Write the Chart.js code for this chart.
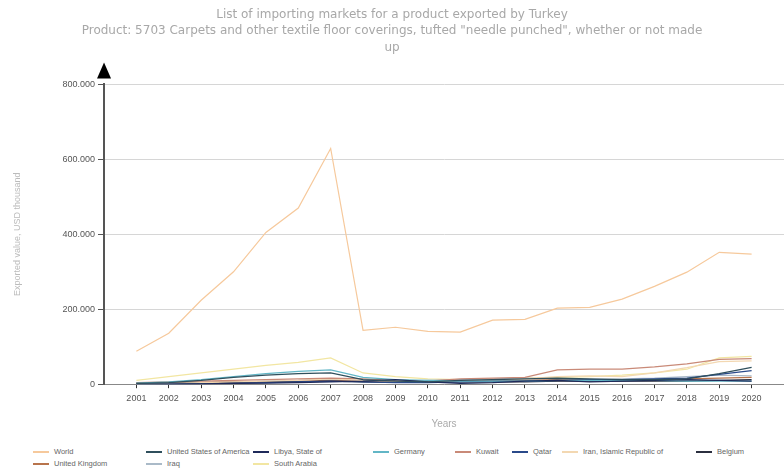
<!DOCTYPE html>
<html>
<head>
<meta charset="utf-8">
<script src="https://cdn.jsdelivr.net/npm/chart.js@4/dist/chart.umd.min.js"></script>
<style>
  html, body { margin: 0; padding: 0; background: #fff; }
  #wrap { position: relative; width: 784px; height: 472px; }
  #box { position: absolute; left: 0; top: 0; width: 784px; height: 440px; }
  #legend {
    position: absolute; left: 33px; top: 446px;
    display: grid;
    grid-template-columns: 113px 107px 120px 82px 57px 50px 134px 88px;
    row-gap: 1px;
    font: 7.5px "Liberation Sans", Arial, sans-serif; color: #666;
  }
  #legend .item { display: flex; align-items: center; white-space: nowrap; height: 11px; }
  #legend .swatch { flex: 0 0 16px; height: 2px; margin-right: 5px; }
</style>
</head>
<body>
<div id="wrap">
  <div id="box"><canvas id="chart" width="784" height="440"></canvas></div>
  <div id="legend"></div>
</div>
<script>
const titleLines = [
  "List of importing markets for a product exported by Turkey",
  "Product: 5703 Carpets and other textile floor coverings, tufted \"needle punched\", whether or not made",
  "up"
];

const years = [2001, 2002, 2003, 2004, 2005, 2006, 2007, 2008, 2009, 2010,
               2011, 2012, 2013, 2014, 2015, 2016, 2017, 2018, 2019, 2020];

// values in USD thousand
const world   = [88000, 136000, 224000, 300000, 405000, 470000, 629000, 144000, 152000, 141000,
                 139000, 171000, 173000, 203000, 205000, 227000, 261000, 299000, 352000, 347000];
const usa     = [2000, 4000, 10000, 18000, 24000, 28000, 30000, 12000, 8000, 6000,
                 10000, 12000, 14000, 16000, 14000, 12000, 12000, 14000, 28000, 45000];
const libya   = [0, 0, 1000, 2000, 3000, 4000, 6000, 8000, 12000, 6000,
                 2000, 4000, 8000, 10000, 6000, 8000, 10000, 12000, 10000, 8000];
const germany = [3000, 6000, 12000, 20000, 28000, 34000, 38000, 18000, 12000, 10000,
                 8000, 8000, 8000, 10000, 10000, 10000, 10000, 8000, 8000, 8000];
const kuwait  = [4000, 6000, 8000, 10000, 12000, 14000, 16000, 14000, 10000, 8000,
                 14000, 16000, 18000, 38000, 40000, 40000, 46000, 54000, 66000, 68000];
const qatar   = [0, 0, 1000, 2000, 4000, 6000, 8000, 6000, 4000, 4000,
                 6000, 8000, 8000, 10000, 12000, 12000, 14000, 16000, 26000, 36000];
const iran    = [1000, 2000, 4000, 6000, 8000, 10000, 14000, 10000, 8000, 8000,
                 8000, 10000, 14000, 20000, 22000, 20000, 30000, 44000, 60000, 62000];
const belgium = [2000, 3000, 4000, 5000, 6000, 7000, 8000, 6000, 5000, 5000,
                 6000, 6000, 6000, 8000, 8000, 8000, 8000, 8000, 10000, 12000];
const uk      = [3000, 4000, 5000, 6000, 6000, 8000, 10000, 8000, 6000, 6000,
                 8000, 10000, 10000, 12000, 12000, 10000, 12000, 14000, 16000, 18000];
const iraq    = [0, 1000, 3000, 5000, 8000, 10000, 14000, 6000, 8000, 10000,
                 12000, 14000, 16000, 14000, 12000, 14000, 16000, 20000, 24000, 22000];
const saudi   = [10000, 20000, 30000, 40000, 50000, 58000, 70000, 30000, 20000, 14000,
                 12000, 14000, 16000, 18000, 20000, 24000, 30000, 40000, 70000, 74000];

const series = [
  { label: "World", data: world, color: "#f6c99c" },
  { label: "United States of America", data: usa, color: "#2f4f5c" },
  { label: "Libya, State of", data: libya, color: "#1f2a5a" },
  { label: "Germany", data: germany, color: "#62b6c6" },
  { label: "Kuwait", data: kuwait, color: "#c98a78" },
  { label: "Qatar", data: qatar, color: "#2a4a8a" },
  { label: "Iran, Islamic Republic of", data: iran, color: "#f3d8b2" },
  { label: "Belgium", data: belgium, color: "#2b2f3f" },
  { label: "United Kingdom", data: uk, color: "#b8744c" },
  { label: "Iraq", data: iraq, color: "#aabac8" },
  { label: "South Arabia", data: saudi, color: "#f2e6a2" }
];

function fmt(v) {
  return String(v).replace(/\B(?=(\d{3})+(?!\d))/g, ".");
}

// black arrow on top of the y axis
const arrowPlugin = {
  id: "arrow",
  afterDraw(chart) {
    const ctx = chart.ctx;
    const x = chart.chartArea.left;
    const top = chart.chartArea.top;
    ctx.save();
    ctx.fillStyle = "#000";
    ctx.beginPath();
    ctx.moveTo(x, top - 22);
    ctx.lineTo(x - 7, top - 6);
    ctx.lineTo(x + 7, top - 6);
    ctx.closePath();
    ctx.fill();
    ctx.restore();
  }
};

new Chart(document.getElementById("chart").getContext("2d"), {
  type: "line",
  data: {
    datasets: series.map(s => ({
      label: s.label,
      data: s.data.map((v, i) => ({ x: years[i], y: v })),
      borderColor: s.color,
      backgroundColor: s.color,
      borderWidth: 1.2,
      pointRadius: 0,
      tension: 0,
      fill: false
    }))
  },
  options: {
    responsive: false,
    animation: false,
    layout: { padding: { left: 0, right: 0, top: 0, bottom: 0 } },
    plugins: {
      legend: { display: false },
      tooltip: { enabled: false },
      title: {
        display: true,
        text: titleLines,
        color: "#a8a8a8",
        font: { family: "DejaVu Sans", size: 12, weight: "normal", lineHeight: 1.4 },
        padding: { top: 6, bottom: 28 }
      }
    },
    scales: {
      x: {
        type: "linear",
        min: 2000,
        max: 2021,
        afterBuildTicks: scale => {
          scale.ticks = years.map(y => ({ value: y }));
        },
        ticks: {
          autoSkip: false,
          maxRotation: 0,
          color: "#555",
          font: { family: "Liberation Sans", size: 9 },
          padding: 5,
          callback: v => String(v)
        },
        grid: { drawOnChartArea: false, drawTicks: true, tickLength: 4, tickColor: "#333" },
        border: { color: "#888", width: 1 },
        title: {
          display: true,
          text: "Years",
          color: "#aaa",
          font: { family: "Liberation Sans", size: 10 },
          padding: { top: 9, bottom: 10 }
        }
      },
      y: {
        min: 0,
        max: 800000,
        afterFit: scale => { scale.width = 104; },
        ticks: {
          stepSize: 200000,
          color: "#555",
          font: { family: "Liberation Sans", size: 9 },
          padding: 3,
          callback: v => fmt(v)
        },
        grid: { color: "#d6d6d6", lineWidth: 1, tickLength: 6, tickColor: "#555" },
        border: { color: "#555", width: 2 },
        title: {
          display: true,
          text: "Exported value, USD thousand",
          color: "#bbb",
          font: { family: "Liberation Sans", size: 9 },
          padding: { top: 12, bottom: 0 }
        }
      }
    }
  },
  plugins: [arrowPlugin]
});

// legend laid out in columns like the original
const legend = document.getElementById("legend");
series.forEach(s => {
  const item = document.createElement("div");
  item.className = "item";
  const sw = document.createElement("span");
  sw.className = "swatch";
  sw.style.background = s.color;
  const txt = document.createElement("span");
  txt.textContent = s.label;
  item.appendChild(sw);
  item.appendChild(txt);
  legend.appendChild(item);
});
</script>
</body>
</html>
